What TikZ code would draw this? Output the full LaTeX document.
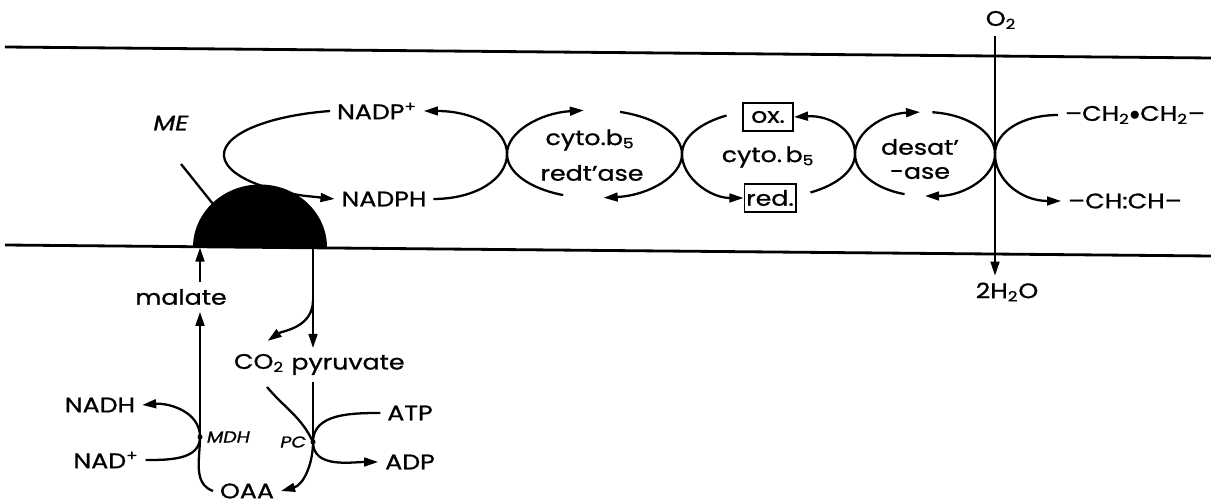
\documentclass[tikz,border=0pt]{standalone}
\usepackage{fontspec}
\setmainfont{Poppins}[FakeStretch=1.2,FakeBold=1]
\usepackage{tikz}
\usetikzlibrary{arrows.meta}

\begin{document}
\begin{tikzpicture}[x=0.02cm,y=0.02cm,line width=1.3pt,
    font=\fontsize{12}{14}\selectfont,
    arr/.style={-{Triangle[length=8pt,width=5pt]}},
    memb/.style={line width=1.6pt},
    rbox/.style={draw,line width=1.1pt,minimum width=1cm,minimum height=0.56cm,inner sep=1pt}]
    \useasboundingbox (0,0) rectangle (1211,504);
    % Draw the two membrane lines
    \draw[memb] (5,457) -- (1211,446); % Top
    \draw[memb] (5,259) -- (1211,248); % Bottom
    % Draw the malic enzyme sitting on the membrane
    \fill (193,256.5) arc[start angle=180, end angle=0, x radius=67, y radius=63] -- cycle;
    \coordinate (mebase) at (260,256.5);
    \node (me) at (171,381) {\textit{ME}};
    \coordinate (melead) at (181,340);
    \coordinate (mehit) at (213,300);
    \draw (melead) -- (mehit);
    % Tangent points of the four loops
    \coordinate (t1) at (507,350);
    \coordinate (t2) at (682,350);
    \coordinate (t3) at (855,350);
    \coordinate (t4) at (995,350);
    % NADP loop
    \node (nadpp) at (377,393) {NADP\textsuperscript{+}};
    \node (nadph) at (384,305) {NADPH};
    \draw[arr] (nadpp.west) arc[start angle=103, end angle=245, x radius=137, y radius=45] -- (nadph.west);
    \draw[arr] (nadph.east) .. controls +(42,0) and +(0,-25) .. (t1) .. controls +(0,25) and +(50,0) .. (nadpp.east);
    % cyto b5 reductase loop
    \node (red1) at (590,364) {cyto.b\textsubscript{5}};
    \node (red2) at (592,331) {redt'ase};
    \draw[arr] (t1) arc[start angle=180, end angle=97, x radius=87.5, y radius=44]; % Top left
    \draw (t2) arc[start angle=0, end angle=73, x radius=87.5, y radius=44]; % Top right
    \draw (t1) arc[start angle=180, end angle=249, x radius=87.5, y radius=44]; % Bottom left
    \draw[arr] (t2) arc[start angle=0, end angle=-84, x radius=87.5, y radius=44]; % Bottom right
    % cyto b5 loop
    \node (cyt) at (768,347) {cyto.\,b\textsubscript{5}};
    \node[rbox] (ox) at (768,387) {ox.};
    \node[rbox] (red) at (770,306) {red.};
    \draw (t2) arc[start angle=180, end angle=119, x radius=86.5, y radius=44]; % Top left
    \draw[arr] (t3) .. controls +(0,24) and +(36,2) .. (ox.east); % Top right
    \draw[arr] (t2) .. controls +(0,-24) and +(-33,0) .. (red.west); % Bottom left
    \draw (t3) arc[start angle=0, end angle=-61, x radius=86.5, y radius=44]; % Bottom right
    % desaturase loop
    \node (des1) at (920,357) {desat'};
    \node (des2) at (920,331) {-ase};
    \draw[arr] (t3) arc[start angle=180, end angle=94, x radius=70, y radius=42]; % Top left
    \draw (t4) arc[start angle=0, end angle=84, x radius=70, y radius=42]; % Top right
    \draw (t3) arc[start angle=180, end angle=253, x radius=70, y radius=42]; % Bottom left
    \draw[arr] (t4) arc[start angle=0, end angle=-90, x radius=70, y radius=42]; % Bottom right
    % Oxygen across the membrane
    \node (o2) at (1001,484) {O\textsubscript{2}};
    \node (h2o) at (1007,212) {2H\textsubscript{2}O};
    \draw[arr] (o2.south -| t4) -- (h2o.north -| t4);
    % Fatty acyl chain
    \node (ch2) at (1135,389) {--CH\textsubscript{2}$\bullet$CH\textsubscript{2}--};
    \node (chch) at (1125,303) {--CH:CH--};
    \draw (ch2.west) .. controls +(-36,0) and +(0,22) .. (t4);
    \draw[arr] (t4) .. controls +(0,-26) and +(-40,0) .. (chch.west);
    % Cytosol side
    \coordinate (mdh) at (200,67);
    \coordinate (pc) at (313,62);
    \coordinate (split) at (313,204);
    \coordinate (co2in) at (267,117);
    \node (malate) at (181,207) {malate};
    \node (co2) at (259,141) {CO\textsubscript{2}};
    \node (pyr) at (348,139) {pyruvate};
    \node (oaa) at (247,13) {OAA};
    \node (nad) at (106,44) {NAD\textsuperscript{+}};
    \node (nadh) at (100,99) {NADH};
    \node (atp) at (410,91) {ATP};
    \node (adp) at (410,42) {ADP};
    \node[right] at (mdh) {\small\textit{MDH}};
    \node[left] at (pc) {\small\textit{PC}};
    \fill (mdh) circle (2.5);
    \fill (pc) circle (2.5);
    % malate goes in, pyruvate and CO2 come out
    \draw[arr] (malate.north -| mdh) -- (mdh |- mebase);
    \draw[arr] (mdh) -- (mdh |- malate.south);
    \draw[arr] (pc |- mebase) -- (pc |- pyr.north);
    \draw[arr,shorten >=6pt] (split) to[out=-90,in=35] (co2.north);
    % MDH and PC reactions
    \draw (oaa.west) to[out=160,in=-90] (mdh);
    \draw (nad.east) to[out=0,in=-90] (mdh);
    \draw[arr] (mdh) to[out=90,in=5] (nadh.east);
    \draw (pc |- pyr.south) -- (pc);
    \draw (co2in) to[out=-50,in=115] (pc);
    \draw (atp.west) to[out=180,in=90] (pc);
    \draw[arr] (pc) to[out=-90,in=180] (adp.west);
    \draw[arr] (pc) to[out=-90,in=15] (oaa.east);
\end{tikzpicture}
\end{document}
